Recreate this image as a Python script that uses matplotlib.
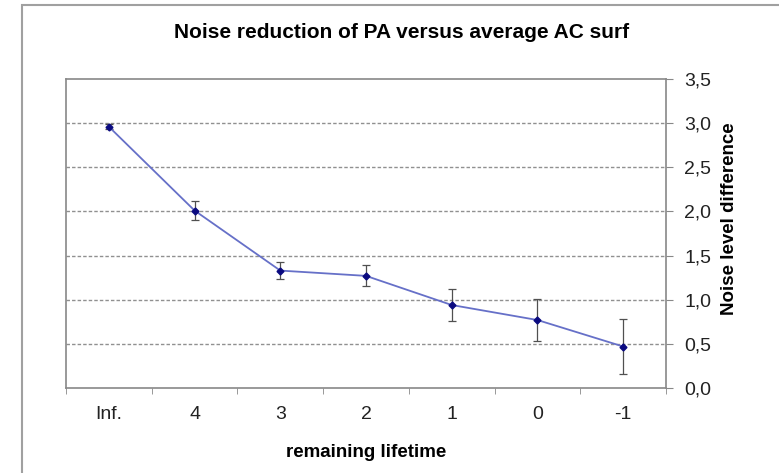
import matplotlib
matplotlib.use("Agg")
import matplotlib.pyplot as plt
from matplotlib.patches import Rectangle
import numpy as np

# data
lifetime = ["Inf.", "4", "3", "2", "1", "0", "-1"]
noise_diff = [2.96, 2.01, 1.33, 1.27, 0.94, 0.77, 0.47]
err = [0.03, 0.11, 0.10, 0.12, 0.18, 0.24, 0.31]
yticks = [0.0, 0.5, 1.0, 1.5, 2.0, 2.5, 3.0, 3.5]

plt.rcParams['font.family'] = ['Liberation Sans', 'DejaVu Sans']

W, H = 779, 473
fig = plt.figure(figsize=(W / 100, H / 100), dpi=100)
ax = fig.add_axes([66/W, 1 - 388/H, 600/W, 309/H])

# outer frame of the chart
fig.patches.append(Rectangle((22/W, -0.1), 1.2, 1 - 5/H + 0.1, transform=fig.transFigure,
                             fill=False, edgecolor='#a0a0a0', linewidth=1.5))

x = np.arange(len(lifetime))
ax.errorbar(x, noise_diff, yerr=err, color='#6670c8', lw=1.3, marker='D', ms=3.5,
            mfc='#0a0a80', mec='#0a0a80', ecolor='#505050', elinewidth=0.9,
            capsize=3, capthick=0.9, zorder=3)

ax.set_xlim(-0.5, len(lifetime) - 0.5)
ax.set_ylim(0, 3.5)
ax.set_xticks(x)
ax.set_xticklabels(lifetime)
ax.set_xticks(np.arange(-0.5, len(lifetime)), minor=True)
ax.tick_params(axis='x', which='major', length=0, pad=13, labelsize=14, colors='#222222')
ax.tick_params(axis='x', which='minor', length=4, color='#888888', direction='out')

ax.yaxis.tick_right()
ax.set_yticks(yticks)
ax.set_yticklabels([f"{v:.1f}".replace('.', ',') for v in yticks])
ax.tick_params(axis='y', length=5, color='#888888', pad=8, labelsize=14, labelcolor='#222222')

for y in yticks[1:-1]:
    ax.axhline(y, color='#909090', lw=1.0, ls=(0, (2.5, 1.5)), zorder=1)

for s in ax.spines.values():
    s.set_color('#888888')
    s.set_linewidth(1.2)

fig.text(402/W, 1 - 32/H, "Noise reduction of PA versus average AC surf", fontsize=15,
         fontweight='bold', ha='center', va='center')
fig.text(366/W, 1 - 452/H, "remaining lifetime", fontsize=13.5, fontweight='bold',
         ha='center', va='center')
fig.text(729/W, 1 - 219/H, "Noise level difference", fontsize=13.5, fontweight='bold',
         ha='center', va='center', rotation=90)

fig.savefig("out.png", dpi=100)
